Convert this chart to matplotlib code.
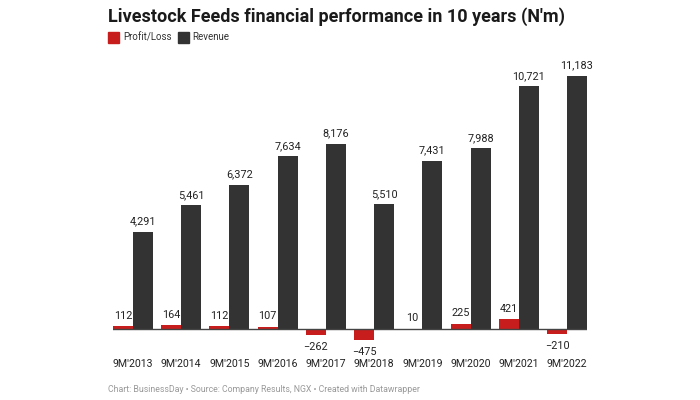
import matplotlib
matplotlib.use("Agg")
import matplotlib.pyplot as plt
import numpy as np

categories = ["9M'2013", "9M'2014", "9M'2015", "9M'2016", "9M'2017",
              "9M'2018", "9M'2019", "9M'2020", "9M'2021", "9M'2022"]
profit = [112, 164, 112, 107, -262, -475, 10, 225, 421, -210]
revenue = [4291, 5461, 6372, 7634, 8176, 5510, 7431, 7988, 10721, 11183]

RED = "#c71e1d"
DARK = "#333333"
plt.rcParams['font.family'] = ['Roboto', 'DejaVu Sans']

fig = plt.figure(figsize=(7, 4), dpi=100)
W, H = 700, 400
left, right = 113, 587
top_px, bot_px = 60, 345
ax = fig.add_axes([left / W, 1 - bot_px / H, (right - left) / W, (bot_px - top_px) / H])

scale = (329 - 76) / 11183.0
ytop = (329 - top_px) / scale
ybot = -(bot_px - 329) / scale
ax.set_ylim(ybot, ytop)

x = np.arange(len(categories))
w = 20 / 48.2
ax.bar(x - w / 2, profit, width=w, color=RED, zorder=2)
ax.bar(x + w / 2, revenue, width=w, color=DARK, zorder=2)
ax.set_xlim(-w, len(categories) - 1 + w)
ax.axhline(0, color="#444444", lw=1, zorder=3)

FS = 7.8
for i, (p, r) in enumerate(zip(profit, revenue)):
    ax.annotate(f"{r:,}", (i + w / 2, r), xytext=(0, 4), textcoords="offset points",
                ha="center", va="bottom", fontsize=FS, color="#222222")
    if p >= 0:
        ax.annotate(f"{p:,}", (i - w / 2, max(p, 0)), xytext=(0, 4), textcoords="offset points",
                    ha="center", va="bottom", fontsize=FS, color="#222222")
    else:
        ax.annotate(f"\u2212{abs(p):,}", (i - w / 2, p), xytext=(0, -5), textcoords="offset points",
                    ha="center", va="top", fontsize=FS, color="#222222")

for s in ax.spines.values():
    s.set_visible(False)
ax.set_yticks([])
ax.set_xticks(x)
ax.set_xticklabels(categories, fontsize=7.6, color="#222222")
ax.tick_params(axis="x", length=0, pad=10)

fig.text(108 / W, 1 - 17 / H, "Livestock Feeds financial performance in 10 years (N'm)",
         fontsize=13, fontweight="bold", color="#1a1a1a", va="center", ha="left")
# legend
fig.patches.append(plt.Rectangle((108 / W, 1 - 43 / H), 11 / W, 11 / H,
                                 transform=fig.transFigure, color=RED))
fig.text(123 / W, 1 - 37.5 / H, "Profit/Loss", fontsize=7, color="#333333", va="center")
fig.patches.append(plt.Rectangle((178 / W, 1 - 43 / H), 11 / W, 11 / H,
                                 transform=fig.transFigure, color=DARK))
fig.text(192 / W, 1 - 37.5 / H, "Revenue", fontsize=7, color="#333333", va="center")

fig.text(108 / W, 1 - 390 / H,
         "Chart: BusinessDay \u2022 Source: Company Results, NGX \u2022 Created with Datawrapper",
         fontsize=6.3, color="#999999", va="center", ha="left")

fig.savefig("out.png", dpi=100)
